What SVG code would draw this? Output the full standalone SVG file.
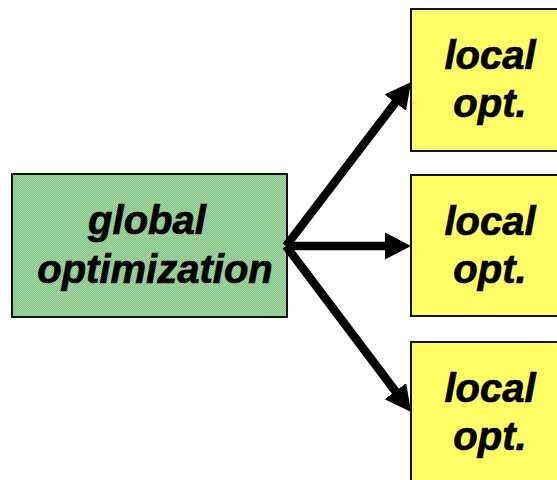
<svg xmlns="http://www.w3.org/2000/svg" width="557" height="480" viewBox="0 0 557 480">
  <style>
    .box { stroke: #111; stroke-width: 2; }
    .green { fill: url(#greenFill); }
    .yellow { fill: url(#yellowFill); }
    .label { font-family: "Liberation Sans", Arial, sans-serif; font-weight: bold; font-style: italic; font-size: 40px; fill: #000; stroke: #000; stroke-width: 0.7; text-anchor: middle; }
    .edge { stroke: #000; stroke-width: 8.5; fill: none; marker-end: url(#head); }
  </style>
  <defs>
    <!-- fine dithered fills -->
    <pattern id="greenFill" width="2" height="2" patternUnits="userSpaceOnUse">
      <rect width="2" height="2" fill="#86c486"/>
      <rect width="1" height="1" fill="#a6d6a6"/>
      <rect x="1" y="1" width="1" height="1" fill="#a6d6a6"/>
    </pattern>
    <pattern id="yellowFill" width="2" height="2" patternUnits="userSpaceOnUse">
      <rect width="2" height="2" fill="#ffff40"/>
      <rect width="1" height="1" fill="#ffff8c"/>
      <rect x="1" y="1" width="1" height="1" fill="#ffff8c"/>
    </pattern>
    <marker id="head" markerUnits="userSpaceOnUse" markerWidth="28" markerHeight="28" refX="4" refY="13.5" orient="auto">
      <path d="M0,0 L26,13.5 L0,27 Z" fill="#000"/>
    </marker>
  </defs>

  <g id="global">
    <rect class="box green" x="12" y="174" width="275" height="143"/>
    <text class="label" x="147" y="234">global</text>
    <text class="label" x="155" y="283">optimization</text>
  </g>

  <g id="local1">
    <rect class="box yellow" x="411" y="9" width="162" height="142"/>
    <text class="label" x="490" y="69">local</text>
    <text class="label" x="490" y="117">opt.</text>
  </g>

  <g id="local2">
    <rect class="box yellow" x="411" y="175" width="162" height="141"/>
    <text class="label" x="490" y="235">local</text>
    <text class="label" x="490" y="283">opt.</text>
  </g>

  <g id="local3">
    <rect class="box yellow" x="411" y="342" width="162" height="142"/>
    <text class="label" x="490" y="402">local</text>
    <text class="label" x="490" y="450">opt.</text>
  </g>

  <g id="connectors">
    <line class="edge" x1="286" y1="246" x2="397.7" y2="99.5"/>
    <line class="edge" x1="286" y1="246" x2="389" y2="246"/>
    <line class="edge" x1="286" y1="246" x2="397.8" y2="394.4"/>
  </g>
</svg>
